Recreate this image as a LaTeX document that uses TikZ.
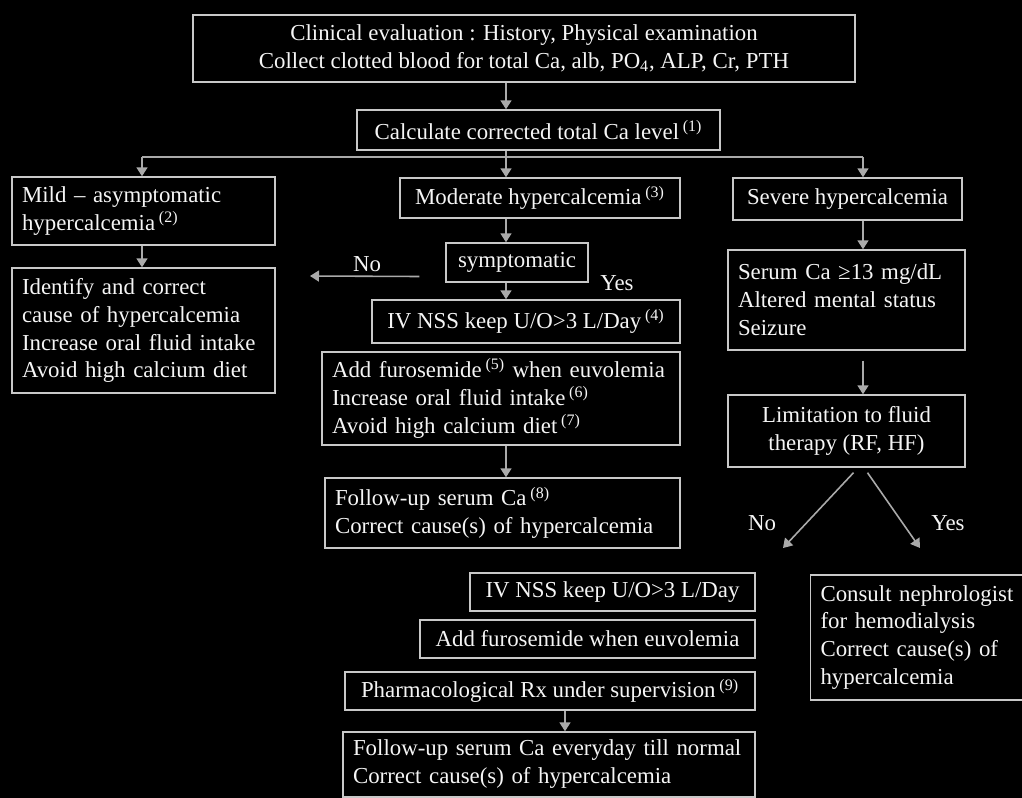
\documentclass[tikz,border=0pt]{standalone}
\usepackage{fontspec}
\setmainfont{Liberation Serif}
\usetikzlibrary{positioning,arrows.meta}
\definecolor{edge}{RGB}{200,200,200}
\definecolor{link}{RGB}{170,170,170}
\definecolor{ink}{RGB}{245,245,245}
\newcommand{\rf}[1]{\,\textsuperscript{(#1)}}
\hyphenpenalty=10000

\begin{document}
\begin{tikzpicture}[x=0.02cm, y=-0.02cm,
    font=\fontsize{13}{15.9}\selectfont,
    box/.style={draw=edge, line width=0.8pt, fill=black, text=ink, inner sep=0pt, align=center},
    lbox/.style={box, align=left, inner xsep=0.2cm},
    arr/.style={draw=link, line width=0.9pt, -{Triangle[width=0.22cm,length=0.18cm]}},
    line/.style={draw=link, line width=0.9pt},
    lbl/.style={text=ink, inner sep=0pt}]
  \fill[black] (0,0) rectangle (1022,798);
  \useasboundingbox (0,0) rectangle (1022,798);

  \coordinate (colL) at (142,0);
  \coordinate (colM) at (506,0);
  \coordinate (colR) at (863,0);
  \coordinate (colP) at (565,0);
  \coordinate (branch) at (0,157);

  \node[box, minimum width=13.24cm, minimum height=1.34cm] (eval) at (524,48.5)
    {Clinical evaluation : History, Physical examination\\
     Collect clotted blood for total Ca, alb, PO\textsubscript{4}, ALP, Cr, PTH};
  \node[box, minimum width=7.26cm, minimum height=0.8cm] (calc) at (538.5,130)
    {Calculate corrected total Ca level\rf{1}};

  \node[lbox, text width=4.86cm, minimum height=1.36cm] (mild) at (143.5,211)
    {Mild -- asymptomatic\\hypercalcemia\rf{2}};
  \node[lbox, text width=4.86cm, minimum height=2.5cm] (mildrx) at (143.5,330.5)
    {Identify and correct\\cause of hypercalcemia\\Increase oral fluid intake\\Avoid high calcium diet};

  \node[box, minimum width=5.6cm, minimum height=0.8cm] (mod) at (540,198)
    {Moderate hypercalcemia\rf{3}};
  \node[box, minimum width=2.84cm, minimum height=0.78cm] (sym) at (517,262.5)
    {symptomatic};
  \node[box, minimum width=6.16cm, minimum height=0.86cm] (nssA) at (526,321.5)
    {IV NSS keep U/O>3 L/Day\rf{4}};
  \node[lbox, text width=6.76cm, minimum height=1.86cm] (furoA) at (501,398.5)
    {Add furosemide\rf{5} when euvolemia\\Increase oral fluid intake\rf{6}\\Avoid high calcium diet\rf{7}};
  \node[lbox, text width=6.7cm, minimum height=1.4cm] (fuA) at (502.5,513)
    {Follow-up serum Ca\rf{8}\\Correct cause(s) of hypercalcemia};

  \node[box, minimum width=4.58cm, minimum height=0.84cm] (sev) at (847.5,199)
    {Severe hypercalcemia};
  \node[lbox, text width=4.34cm, minimum height=2.0cm] (crit) at (846.5,300)
    {Serum Ca ≥13 mg/dL\\Altered mental status\\Seizure};
  \node[box, minimum width=4.74cm, minimum height=1.44cm] (lim) at (846.5,431)
    {Limitation to fluid\\therapy (RF, HF)};
  \node[lbox, text width=4.1cm, minimum height=2.5cm] (consult) at (923,637.5)
    {Consult nephrologist\\for hemodialysis\\Correct cause(s) of\\hypercalcemia};

  \node[box, minimum width=5.7cm, minimum height=0.76cm] (nssB) at (612.5,592)
    {IV NSS keep U/O>3 L/Day};
  \node[box, minimum width=6.7cm, minimum height=0.76cm] (furoB) at (587.5,639)
    {Add furosemide when euvolemia};
  \node[box, minimum width=8.2cm, minimum height=0.76cm] (pharm) at (550,691)
    {Pharmacological Rx under supervision\rf{9}};
  \node[lbox, text width=7.84cm, minimum height=1.3cm] (fuB) at (549,764.5)
    {Follow-up serum Ca everyday till normal\\Correct cause(s) of hypercalcemia};

  \coordinate (noTip) at (310,276);
  \coordinate (tipL) at (783,548);
  \coordinate (tipR) at (920,548);

  \draw[arr] (eval.south -| colM) -- (calc.north -| colM);
  \draw[line] (calc.south -| colM) -- (colM |- branch);
  \draw[line] (colL |- branch) -- (colR |- branch);
  \draw[arr] (colL |- branch) -- (mild.north -| colL);
  \draw[arr] (colM |- branch) -- (mod.north -| colM);
  \draw[arr] (colR |- branch) -- (sev.north -| colR);
  \draw[arr] (mild.south -| colL) -- (mildrx.north -| colL);
  \draw[arr] (mod.south -| colM) -- (sym.north -| colM);
  \draw[arr] (sym.south -| colM) -- (nssA.north -| colM);
  \draw[arr] ([shift={(-26,14)}]sym.west) -- (noTip);
  \draw[arr] (furoA.south -| colM) -- (fuA.north -| colM);
  \draw[arr] (sev.south -| colR) -- (crit.north -| colR);
  \draw[arr] ([yshift=-0.2cm]crit.south -| colR) -- (lim.north -| colR);
  \draw[arr] ([shift={(7,5)}]lim.south) -- (tipL);
  \draw[arr] ([shift={(21,5)}]lim.south) -- (tipR);
  \draw[arr] (pharm.south -| colP) -- (fuB.north -| colP);

  \node[lbl] (no1) at (367,264) {No};
  \node[lbl] (yes1) at (617,283) {Yes};
  \node[lbl] (no2) at (762,523) {No};
  \node[lbl] (yes2) at (948,523) {Yes};
\end{tikzpicture}
\end{document}
